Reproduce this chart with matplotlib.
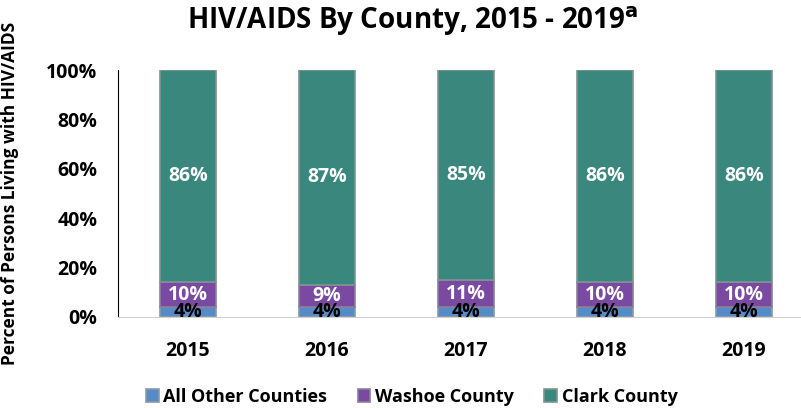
import numpy as np
import matplotlib.pyplot as plt

years = ['2015', '2016', '2017', '2018', '2019']
other = [4, 4, 4, 4, 4]
washoe = [10, 9, 11, 10, 10]
clark = [86, 87, 85, 86, 86]
series_names = ['All Other Counties', 'Washoe County', 'Clark County']
colors = ['#558cc8', '#7a4aa2', '#3a877d']
edge_colors = ['#8a9aa8', '#8a8098', '#7f9492']
label_colors = ['black', 'white', 'white']

plt.rcParams['font.family'] = ['Open Sans', 'DejaVu Sans']
plt.rcParams['font.weight'] = 'bold'

fig = plt.figure(figsize=(8.01, 4.08), dpi=100)
ax = fig.add_axes([118 / 801, 1 - 317 / 408, 1 - 118 / 801, (317 - 70) / 408])

x = np.arange(len(years))
bottom = np.zeros(len(years))
for vals, name, c, ec, lc in zip([other, washoe, clark], series_names, colors, edge_colors, label_colors):
    v = np.array(vals) / 100.0
    ax.bar(x, v, 0.40, bottom=bottom, color=c, edgecolor=ec, linewidth=1.2, label=name)
    for xi, b, vi, raw in zip(x, bottom, v, vals):
        ax.text(xi, b + vi / 2, '{}%'.format(raw), ha='center', va='center',
                color=lc, fontsize=14, fontweight='bold')
    bottom = bottom + v

ax.set_ylim(0, 1)
ax.set_xlim(-0.504, 4.41)
ax.set_yticks([0, 0.2, 0.4, 0.6, 0.8, 1.0])
ax.set_yticklabels(['0%', '20%', '40%', '60%', '80%', '100%'], fontsize=14, fontweight='bold')
ax.set_xticks(x)
ax.set_xticklabels(years, fontsize=14, fontweight='bold')
ax.tick_params(axis='both', length=0)
ax.tick_params(axis='y', pad=15)
ax.tick_params(axis='x', pad=17)
ax.spines['top'].set_visible(False)
ax.spines['right'].set_visible(False)
ax.spines['bottom'].set_color('#d0d0d0')
ax.spines['left'].set_color('black')
ax.set_ylabel('Percent of Persons Living with HIV/AIDS', fontsize=12.5, fontweight='bold')
ax.yaxis.set_label_coords(-(118 - 19) / 683, 0.5)

fig.text(0.515, 0.948, 'HIV/AIDS By County, 2015 - 2019$^{\\mathbf{a}}$', ha='center', va='center',
         fontsize=20, fontweight='bold')

fig.legend(loc='center', bbox_to_anchor=(0.514, 0.027), ncol=3, frameon=False,
           fontsize=13, handlelength=0.7, handleheight=0.7, columnspacing=1.7, handletextpad=0.25)

fig.savefig('out.png', dpi=100)
